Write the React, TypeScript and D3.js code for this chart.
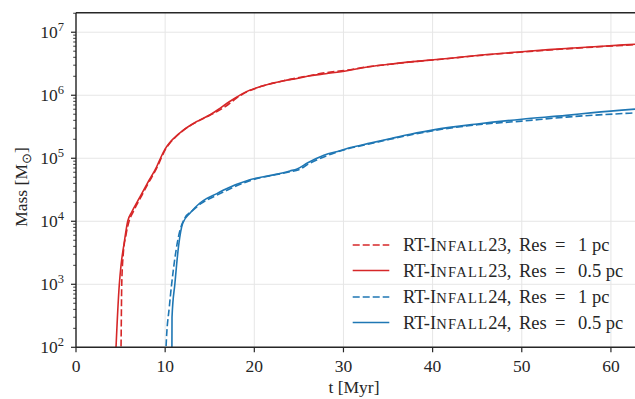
import React from "react";
import * as d3 from "d3";

// ---- data (t in Myr, mass in Msun) ----
const redSolidT = [4.4, 4.49, 4.86, 5.05, 5.4, 5.8, 6.25, 7.0, 8.0, 9.06, 9.5, 9.99, 10.5, 11.0, 12.04, 13.5, 15.04, 16.0, 16.9, 18.0, 19.0, 20.3, 21.5, 23.3, 24.8, 26.3, 28.0, 30.4, 32.5, 35.2, 37.5, 40.1, 43.0, 46.1, 50.0, 53.0, 55.8, 59.0, 62.7];
const redSolidM = [50, 100, 1000, 2000, 4500, 10000, 14000, 22000, 40000, 74000, 102000, 140000, 177000, 210000, 280000, 380000, 490000, 600000, 740000, 930000, 1120000, 1320000, 1480000, 1700000, 1850000, 2040000, 2200000, 2450000, 2780000, 3100000, 3380000, 3650000, 4000000, 4420000, 4900000, 5300000, 5620000, 6000000, 6460000];

const redDashT = [5.0, 5.05, 5.13, 5.3, 5.6, 5.95, 6.4, 7.2, 8.1, 9.1, 9.55, 10.0, 10.5, 11.0, 12.0, 13.5, 15.0, 16.0, 17.0, 18.0, 19.0, 20.3, 23.3, 26.3, 28.0, 30.4, 32.5, 35.2, 37.5, 40.1, 46.1, 50.0, 55.8, 62.7];
const redDashM = [50, 100, 1000, 3000, 6000, 10000, 14000, 23000, 40000, 72000, 100000, 136000, 172000, 205000, 275000, 375000, 480000, 570000, 700000, 900000, 1100000, 1310000, 1700000, 2060000, 2280000, 2500000, 2800000, 3100000, 3370000, 3630000, 4380000, 4850000, 5550000, 6350000];

const blueSolidT = [10.75, 10.77, 11.1, 11.5, 11.97, 12.8, 13.9, 14.67, 15.8, 16.5, 19.5, 22.0, 24.0, 24.8, 26.0, 27.8, 29.6, 30.8, 33.0, 35.2, 37.5, 40.1, 45.0, 50.0, 55.0, 58.0, 62.7];
const blueSolidM = [50, 300, 1050, 4000, 9300, 13500, 19500, 23000, 27500, 31000, 45700, 54000, 63000, 67600, 85000, 112000, 132000, 148000, 174000, 204000, 240000, 282000, 350000, 417000, 480000, 530000, 603000];

const blueDashT = [10.08, 10.1, 10.47, 10.92, 11.5, 12.2, 13.0, 14.0, 15.8, 19.5, 24.0, 25.0, 26.2, 28.0, 30.8, 33.0, 35.2, 37.5, 40.1, 45.0, 50.0, 55.0, 62.7];
const blueDashM = [50, 100, 440, 1700, 5750, 11200, 14500, 19000, 26000, 44000, 61000, 66000, 83000, 108000, 145000, 170000, 200000, 234000, 275000, 340000, 389000, 450000, 525000];

const xTicks = [0, 10, 20, 30, 40, 50, 60];
const yExponents = [2, 3, 4, 5, 6, 7];
const legendNames = ["23", "23", "24", "24"];
const legendRes = ["1 pc", "0.5 pc", "1 pc", "0.5 pc"];

const RED = "#d62728";
const BLUE = "#1f77b4";
const FONT = "'Liberation Serif', 'Times New Roman', serif";
const INK = "#262626";

export default function App() {
  const W = 635, H = 399;
  const left = 76, right = 635, top = 12.7, bottom = 347.3;
  const x = d3.scaleLinear().domain([0, 62.7]).range([left, right]);
  const y = d3.scaleLog().domain([100, Math.pow(10, 7.31)]).range([bottom, top]);

  const line = d3.line<[number, number]>().x((d) => x(d[0])).y((d) => y(d[1])).curve(d3.curveMonotoneX);
  const mk = (t: number[], m: number[]) => line(t.map((v, i) => [v, m[i]] as [number, number])) || "";

  const series = [
    { d: mk(redDashT, redDashM), c: RED, dash: "7,3" },
    { d: mk(redSolidT, redSolidM), c: RED, dash: "" },
    { d: mk(blueDashT, blueDashM), c: BLUE, dash: "7,3" },
    { d: mk(blueSolidT, blueSolidM), c: BLUE, dash: "" },
  ];

  const minorTicks: number[] = [];
  for (let e = 2; e <= 7; e++) for (let k = 2; k <= 9; k++) {
    const v = k * Math.pow(10, e);
    if (v <= y.domain()[1]) minorTicks.push(v);
  }

  const fs = 17.5;
  const sup = 12.5;
  const legX0 = 352.7, legX1 = 389.3, legTx = 403;
  const legY = [245, 270.5, 297, 322.5];

  return (
    <svg width={W} height={H} style={{ position: "absolute", left: 0, top: 0, background: "#fff" }} fontFamily={FONT}>
      <defs>
        <clipPath id="plotclip">
          <rect x={left} y={top} width={right - left} height={bottom - top} />
        </clipPath>
      </defs>
      {/* grid */}
      {xTicks.map((t) => (
        <line key={"gx" + t} x1={x(t)} x2={x(t)} y1={top} y2={bottom} stroke="#e6e6e6" strokeWidth={1} />
      ))}
      {yExponents.map((e) => (
        <line key={"gy" + e} x1={left} x2={right} y1={y(Math.pow(10, e))} y2={y(Math.pow(10, e))} stroke="#e6e6e6" strokeWidth={1} />
      ))}
      {/* series */}
      <g clipPath="url(#plotclip)">
        {series.map((s, i) => (
          <path key={i} d={s.d} fill="none" stroke={s.c} strokeWidth={1.6} strokeDasharray={s.dash || undefined} strokeLinejoin="round" />
        ))}
      </g>
      {/* spines */}
      <line x1={left} x2={left} y1={top} y2={bottom} stroke={INK} strokeWidth={1.4} />
      <line x1={left} x2={right} y1={bottom} y2={bottom} stroke={INK} strokeWidth={1.4} />
      <line x1={left} x2={right} y1={top} y2={top} stroke={INK} strokeWidth={1.4} />
      {/* x ticks */}
      {xTicks.map((t) => (
        <g key={"xt" + t}>
          <line x1={x(t)} x2={x(t)} y1={bottom} y2={bottom + 5} stroke={INK} strokeWidth={1.2} />
          <text x={x(t)} y={372} textAnchor="middle" fontSize={fs} fill={INK}>{t}</text>
        </g>
      ))}
      {/* y ticks */}
      {minorTicks.map((v, i) => (
        <line key={"mt" + i} x1={left - 2.8} x2={left} y1={y(v)} y2={y(v)} stroke={INK} strokeWidth={0.9} />
      ))}
      {yExponents.map((e) => (
        <g key={"yt" + e}>
          <line x1={left - 5} x2={left} y1={y(Math.pow(10, e))} y2={y(Math.pow(10, e))} stroke={INK} strokeWidth={1.2} />
          <text x={64} y={y(Math.pow(10, e)) + 6} textAnchor="end" fontSize={fs} fill={INK}>
            10<tspan dy={-7.5} fontSize={sup}>{e}</tspan>
          </text>
        </g>
      ))}
      {/* axis labels */}
      <text x={354} y={392.5} textAnchor="middle" fontSize={fs} fill={INK}>t [Myr]</text>
      <text transform={`translate(27,187) rotate(-90)`} textAnchor="middle" fontSize={fs} fill={INK}>
        Mass [M<tspan dy={3.5} fontSize={sup}>⊙</tspan><tspan dy={-3.5}>]</tspan>
      </text>
      {/* legend */}
      {legendNames.map((n, i) => (
        <g key={"lg" + i}>
          <line x1={legX0} x2={legX1} y1={legY[i]} y2={legY[i]} stroke={i < 2 ? RED : BLUE} strokeWidth={1.6} strokeDasharray={i % 2 === 0 ? "7,3" : undefined} />
          <text x={legTx} y={legY[i] + 6} fontSize={18.5} fill={INK}>
            <tspan>RT-I</tspan>
            <tspan fontSize={14.5} letterSpacing={1.3}>NFALL</tspan>
            <tspan>{n},</tspan>
            <tspan x={519}>Res</tspan>
            <tspan x={555}>=</tspan>
            <tspan x={578}>{legendRes[i]}</tspan>
          </text>
        </g>
      ))}
    </svg>
  );
}
